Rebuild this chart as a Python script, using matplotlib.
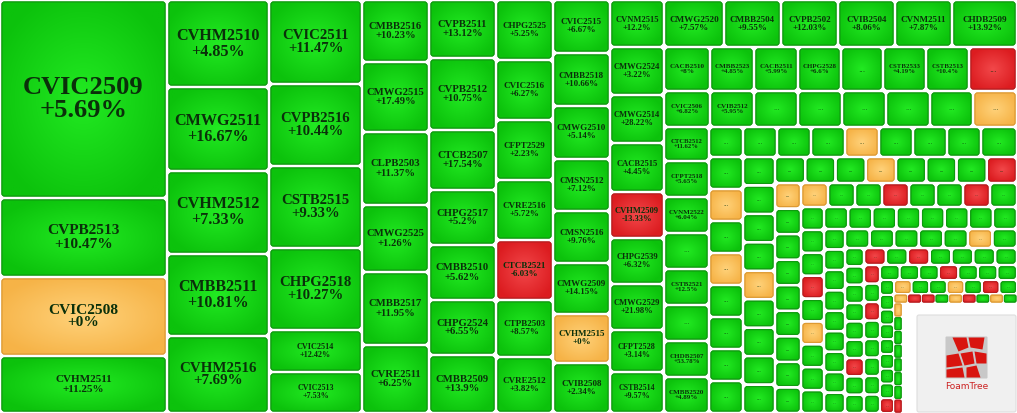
import matplotlib
matplotlib.use("Agg")
import matplotlib.pyplot as plt
import numpy as np
from matplotlib.patches import FancyBboxPatch, Polygon
from matplotlib.colors import to_rgb

W, H = 1017, 413
N = None
# ---- data: groups laid out in order (orientation, labels, pct changes, areas in px^2)
g_orient = ['col', 'col', 'col', 'col', 'col', 'col', 'col', 'row', 'col', 'row', 'row', 'col',
            'row', 'col', 'col', 'row', 'col', 'row', 'col', 'row', 'col', 'row', 'col', 'row',
            'col', 'row', 'col', 'row', 'row', 'col']
g_labels = [
    ['CVIC2509', 'CVPB2513', 'CVIC2508', 'CVHM2511'],
    ['CVHM2510', 'CMWG2511', 'CVHM2512', 'CMBB2511', 'CVHM2516'],
    ['CVIC2511', 'CVPB2516', 'CSTB2515', 'CHPG2518', 'CVIC2514', 'CVIC2513'],
    ['CMBB2516', 'CMWG2515', 'CLPB2503', 'CMWG2525', 'CMBB2517', 'CVRE2511'],
    ['CVPB2511', 'CVPB2512', 'CTCB2507', 'CHPG2517', 'CMBB2510', 'CHPG2524', 'CMBB2509'],
    ['CHPG2525', 'CVIC2516', 'CFPT2529', 'CVRE2516', 'CTCB2521', 'CTPB2503', 'CVRE2512'],
    ['CVIC2515', 'CMBB2518', 'CMWG2510', 'CMSN2512', 'CMSN2516', 'CMWG2509', 'CVHM2515', 'CVIB2508'],
    ['CVNM2515', 'CMWG2520', 'CMBB2504', 'CVPB2502', 'CVIB2504', 'CVNM2511', 'CHDB2509'],
    ['CMWG2524', 'CMWG2514', 'CACB2515', 'CVHM2509', 'CHPG2539', 'CMWG2529', 'CFPT2528', 'CSTB2514'],
    ['CACB2510', 'CMBB2523', 'CACB2511', 'CHPG2528', N, 'CSTB2533', 'CSTB2513', N],
    ['CVIC2506', 'CVIB2512', N, N, N, N, N, N],
    ['CTCB2512', 'CFPT2518', 'CVNM2522', N, 'CSTB2521', N, 'CHDB2507', 'CMBB2520'],
] + [None] * 18
g_pcts = [
    [5.69, 10.47, 0, 11.25],
    [4.85, 16.67, 7.33, 10.81, 7.69],
    [11.47, 10.44, 9.33, 10.27, 12.42, 7.53],
    [10.23, 17.49, 11.37, 1.26, 11.95, 6.25],
    [13.12, 10.75, 17.54, 5.2, 5.62, 6.55, 13.9],
    [5.25, 6.27, 2.23, 5.72, -6.03, 8.57, 3.82],
    [6.67, 10.66, 5.14, 7.12, 9.76, 14.15, 0, 2.34],
    [12.2, 7.57, 9.55, 12.03, 8.06, 7.87, 13.92],
    [3.22, 28.22, 4.45, -13.33, 6.32, 21.98, 3.14, 9.57],
    [8, 4.85, 5.99, 6.6, 3, 4.19, 10.4, -3],
    [6.82, 5.95, 3, 3, 3, 3, 3, 0],
    [11.62, 5.65, 6.04, 3, 12.5, 3, 53.78, 4.89],
    [3, 3, 3, 3, 0, 3, 3, 3, 3],
    [3, 0, 3, 0, 3, 3, 3, 3],
    [3, 3, 3, 3, 0, 3, 3, 3, 3],
    [3, 3, 3, 0, 3, 3, 3, -3],
    [0, 3, 3, 3, 3, 3, 3, 3, 3],
    [0, 3, 3, -3, 3, 3, -3, 3],
    [3, 3, 3, -3, 3, 0, 3, 3, 3],
    [3, 3, 3, 3, 3, 3, 3, 3],
    [3, 3, 3, 3, 3, 3, 3, 3, 3],
    [3, 3, 3, 3, 3, 0, 3],
    [3, 3, 3, 3, 3, 3, -3, 3, 3],
    [-3, 3, -3, 3, 3, 3, 3],
    [-3, 3, -3, 3, 3, 3, 3, 3],
    [3, 3, 3, -3, 3, 3, 3],
    [3, 3, 3, 3, 3, 3, 3, 3, -3],
    [0, 3, 3, 0, 3, -3, 3],
    [0, -3, -3, 3, 0, -3, 3, 0, 3],
    [0, 3, 3, 3, 3, 3, 3, -3],
]
g_areas = [
    [33066, 13193, 13193, 9519],
    [8874, 8568, 8466, 8364, 7854],
    [7812, 7626, 7626, 7626, 3906, 3813],
    [4154, 4690, 4891, 4489, 4891, 4556],
    [3886, 4824, 4020, 3685, 3685, 3685, 3886],
    [3420, 3420, 3420, 3420, 3420, 3249, 3192],
    [3021, 3021, 3021, 2964, 2964, 2907, 2793, 2850],
    [2538, 2820, 2679, 2679, 2679, 2679, 3055],
    [2592, 2592, 2646, 2484, 2484, 2484, 2268, 2214],
    [2024, 1936, 1936, 1892, 1848, 1892, 1892, 2112],
    [1656, 1584, 1584, 1584, 1584, 1584, 1548, 1584],
    [1530, 1620, 1620, 1620, 1620, 1620, 1620, 1620],
    [1020] * 8 + [1080],
    [1088] * 8,
    [910] * 9,
    [787] * 8,
    [665] * 9,
    [648] * 8,
    [527] * 9,
    [531] * 8,
    [429] * 9,
    [467] * 7,
    [348] * 9,
    [372] * 7,
    [296] * 8,
    [294] * 7,
    [207] * 9,
    [246] * 7,
    [123] * 9,
    [110] * 8,
]

# (centre colour, edge-of-gradient colour, border colour)
GREEN = ('#22ea22', '#0cc20c', '#0f9a0f')
RED = ('#f2484a', '#dc1c20', '#b81c1f')
ORANGE = ('#ffd27a', '#f6b347', '#dd9a33')
TXT = '#0a300a'

fig = plt.figure(figsize=(W / 100, H / 100), dpi=100)
ax = fig.add_axes([0, 0, 1, 1])
ax.set_xlim(0, W)
ax.set_ylim(H, 0)
ax.axis('off')

yy_, xx_ = np.mgrid[-1:1:32j, -1:1:32j]
rad = np.clip(np.sqrt(xx_ ** 2 + yy_ ** 2) / 1.2, 0, 1)[..., None]


def draw_cell(x, y, w, h, label, pct):
    cols = GREEN if pct > 0 else (RED if pct < 0 else ORANGE)
    c0, c1 = np.array(to_rgb(cols[0])), np.array(to_rgb(cols[1]))
    g = min(2.0, 0.12 * min(w, h))
    r = min(2.5, 0.15 * min(w, h))
    p = FancyBboxPatch((x + g + r, y + g + r), w - 2 * g - 2 * r, h - 2 * g - 2 * r,
                       boxstyle=f"round,pad={r}", fc=cols[1], ec=cols[2], lw=0.8)
    ax.add_patch(p)
    img = c0 * (1 - rad) + c1 * rad
    im = ax.imshow(img, extent=(x + g, x + w - g, y + h - g, y + g), interpolation='bilinear',
                   zorder=1.5, aspect='auto')
    im.set_clip_path(p)
    ax.add_patch(FancyBboxPatch((x + g + r, y + g + r), w - 2 * g - 2 * r, h - 2 * g - 2 * r,
                                boxstyle=f"round,pad={r}", fc='none', ec=cols[2], lw=0.8, zorder=1.6))
    if label is not None:
        txt = f"{label}\n{pct:+g}%"
        fpx = min(w * 0.75 / (len(label) * 0.55), h * 0.21) * 0.93
        ax.text(x + w / 2, y + h / 2, txt, ha='center', va='center', fontsize=fpx * 0.72,
                family='Liberation Serif', fontweight='bold', color=TXT, linespacing=1.0, zorder=3)
    elif min(w, h) > 14:
        ax.text(x + w / 2, y + h / 2, '...', ha='center', va='center',
                fontsize=max(3, min(w, h) * 0.13), color=TXT, zorder=3)


x0, y0, x1, y1 = 0.0, 0.0, float(W), float(H)
for orient, labels, pcts, areas in zip(g_orient, g_labels, g_pcts, g_areas):
    labels = labels or [None] * len(areas)
    tot = sum(areas)
    if orient == 'col':
        th = tot / (y1 - y0)
        yy = y0
        for lab, p, a in zip(labels, pcts, areas):
            hh = a / th
            draw_cell(x0, yy, th, hh, lab, p)
            yy += hh
        x0 += th
    else:
        th = tot / (x1 - x0)
        xx = x0
        for lab, p, a in zip(labels, pcts, areas):
            ww = a / th
            draw_cell(xx, y0, ww, th, lab, p)
            xx += ww
        y0 += th

ax.set_xlim(0, W)
ax.set_ylim(H, 0)

# FoamTree logo in the remaining corner
lx, ly = max(x0, 916), max(y0, 314)
ax.add_patch(FancyBboxPatch((lx + 3, ly + 3), W - lx - 6, H - ly - 6, boxstyle="round,pad=2",
                            fc='#f0f0f0', ec='#dddddd', lw=0.8, zorder=2))
cx, cy = (lx + W) / 2, (ly + H) / 2 - 6
ax.add_patch(FancyBboxPatch((cx - 20, cy - 20), 40, 40, boxstyle="round,pad=1", fc='#c8c8c8', ec='none', zorder=2))
polys = [[(-14, -20), (0, -20), (2, -10), (-8, -6)], [(2, -20), (18, -20), (16, -8), (4, -10)],
         [(-20, -2), (-8, -4), (-4, 8), (-20, 10)], [(-6, -4), (6, -6), (8, 6), (-2, 8)],
         [(8, -6), (20, -4), (20, 6), (10, 6)], [(-20, 12), (-4, 10), (-2, 20), (-20, 20)],
         [(0, 10), (10, 8), (14, 20), (0, 20)]]
for pg in polys:
    ax.add_patch(Polygon([(cx + a, cy + b) for a, b in pg], closed=True, fc='#d8140f', ec='none', zorder=2.5))
ax.text(cx, cy + 29, 'FoamTree', ha='center', va='center', fontsize=6.5, color='#cc2222', zorder=3)

fig.savefig('out.png', dpi=100)
